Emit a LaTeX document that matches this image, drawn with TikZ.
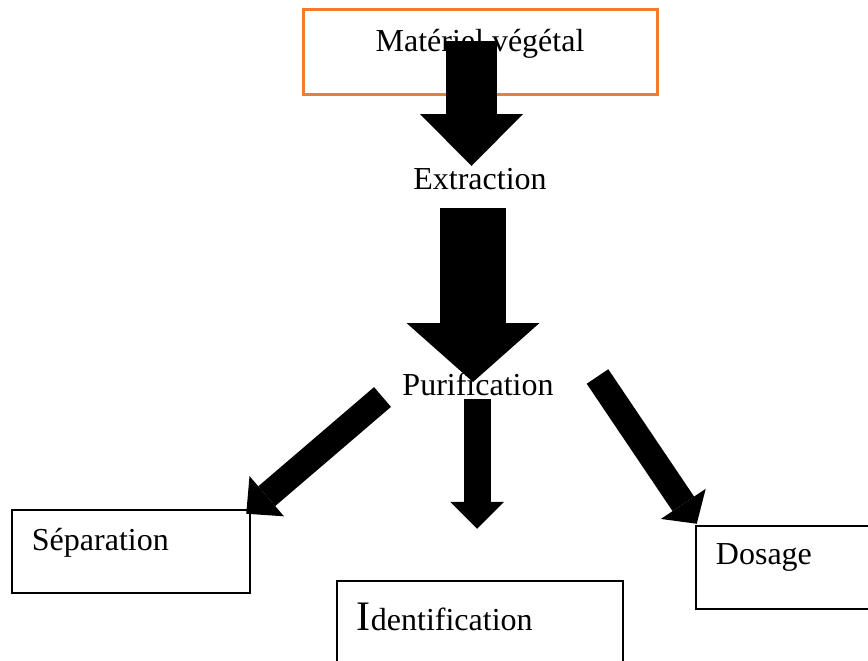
\documentclass[tikz,border=0pt]{standalone}
\usepackage{fontspec}
\setmainfont{Liberation Serif}
\usepackage{xcolor}
\usepackage{tikz}
\usetikzlibrary{arrows.meta}
\definecolor{matorange}{HTML}{ED7D31}
\tikzstyle{box}=[draw,line width=2.5pt,inner sep=0pt,minimum width=238pt,minimum height=83pt]
\tikzstyle{topbox}=[box,draw=matorange,line width=3pt,minimum width=354pt,minimum height=85pt]
\tikzstyle{lbl}=[inner sep=0pt,font=\fontsize{32pt}{37pt}\selectfont]
\tikzset{fat/.style n args={3}{line width=#1pt,-{Triangle[length=#2pt,width=#3pt,line width=0pt]}}}

\begin{document}
\begin{tikzpicture}[x=1pt,y=-1pt]
  \useasboundingbox (0,0) rectangle (868,661);
  \clip (0,0) rectangle (868,661);
  % boxes
  \node[topbox] (matbox) at (480,52.5) {};
  \node[box] (sepbox) at (131,551.5) {};
  \node[box,minimum width=286pt] (idebox) at (480,622.5) {};
  \node[box] (dosbox) at (815,567.5) {};
  % labels
  \node[lbl,anchor=base] (mat) at (480,52) {Matériel végétal};
  \node[lbl,anchor=base] (ext) at (480,189) {Extraction};
  \node[lbl,anchor=base] (pur) at (478,395) {Purification};
  \node[lbl,anchor=base west] (sep) at ([shift={(21,42)}]sepbox.north west) {Séparation};
  \node[lbl,anchor=base west] (ide) at ([shift={(21,51)}]idebox.north west)
    {{\fontsize{42pt}{42pt}\selectfont I}{\fontsize{32pt}{37pt}\selectfont dentification}};
  \node[lbl,anchor=base west] (dos) at ([shift={(21,40)}]dosbox.north west) {Dosage};
  % arrows
  \draw[fat={51}{52}{103}] ([shift={(-8.5,-11)}]mat.base) -- ([shift={(-8.5,-23)}]ext.base);
  \draw[fat={66}{59}{133}] ([shift={(-7,19)}]ext.base) -- ([shift={(-5,-13)}]pur.base);
  \draw[fat={27}{27}{54}] ([shift={(-1,4)}]pur.base) -- ([shift={(-3,-51)}]idebox.north);
  \draw[fat={26}{27}{53}] ([shift={(-95.5,2)}]pur.base) -- ([shift={(-5,5)}]sepbox.north east);
  \draw[fat={26}{24}{54}] ([shift={(119.5,-18.5)}]pur.base) -- ([shift={(2,-1)}]dosbox.north west);
\end{tikzpicture}
\end{document}
